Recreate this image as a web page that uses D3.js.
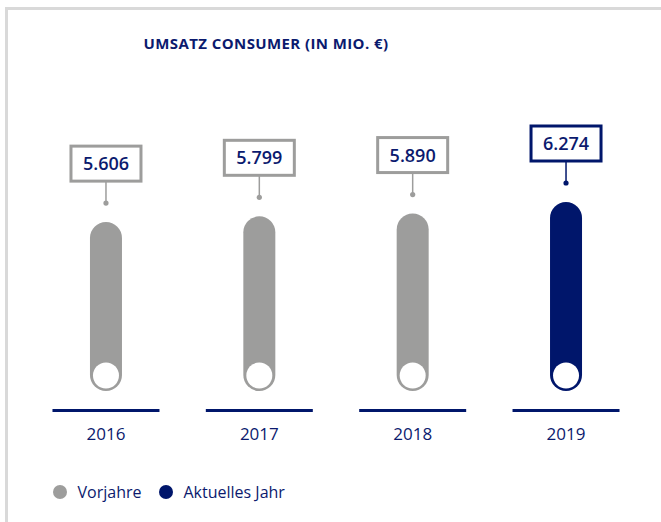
<!DOCTYPE html>
<html><head><meta charset="utf-8">
<script src="https://cdn.jsdelivr.net/npm/d3@7"></script>
<style>body{margin:0;background:#fff}svg{display:block}</style>
</head><body>
<svg id="c" width="661" height="522"></svg>
<script>
const years = ["2016","2017","2018","2019"];
const values = [5606, 5799, 5890, 6274];
const valueLabels = ["5.606","5.799","5.890","6.274"];
const current = [false,false,false,true];
const legendLabels = ["Vorjahre","Aktuelles Jahr"];
const title = "UMSATZ CONSUMER (IN MIO. €)";

const navy = "#0b1a6e", barNavy = "#00166b", gray = "#9d9d9c";
const font = "'Open Sans', sans-serif";
const svg = d3.select("#c");

// frame
svg.append("path").attr("d","M6.5,522 V8.5 H661").attr("fill","none").attr("stroke","#d9d9d9").attr("stroke-width",3);

svg.append("text").attr("x",266).attr("y",48.5).attr("text-anchor","middle")
  .attr("font-family",font).attr("font-weight",700).attr("font-size",15)
  .attr("letter-spacing",0.4).attr("fill",navy).text(title);

const x = d3.scaleBand().domain(years).range([29.3,642.7]);
const y = d3.scaleLinear().domain([0,6274]).range([391,202]);
const bw = 32;

const g = svg.selectAll("g.bar").data(years.map((d,i)=>({year:d,v:values[i],lab:valueLabels[i],cur:current[i]})))
  .enter().append("g");

g.append("line").attr("x1",d=>x(d.year)+x.bandwidth()/2-53.5).attr("x2",d=>x(d.year)+x.bandwidth()/2+53.5)
  .attr("y1",410.5).attr("y2",410.5).attr("stroke",barNavy).attr("stroke-width",3);

g.append("rect").attr("x",d=>x(d.year)+x.bandwidth()/2-bw/2).attr("width",bw)
  .attr("y",d=>y(d.v)).attr("height",d=>y(0)-y(d.v)).attr("rx",bw/2)
  .attr("fill",d=>d.cur?barNavy:gray);
g.append("circle").attr("cx",d=>x(d.year)+x.bandwidth()/2).attr("cy",375.5).attr("r",13).attr("fill","#fff");

g.append("text").attr("x",d=>x(d.year)+x.bandwidth()/2).attr("y",440).attr("text-anchor","middle")
  .attr("font-family",font).attr("font-size",17).attr("fill",navy).text(d=>d.year);

// labels
const bh = 35, bwid = 70;
g.append("line").attr("x1",d=>x(d.year)+x.bandwidth()/2).attr("x2",d=>x(d.year)+x.bandwidth()/2)
  .attr("y1",d=>y(d.v)-19).attr("y2",d=>y(d.v)-41).attr("stroke",d=>d.cur?barNavy:gray).attr("stroke-width",1.5);
g.append("circle").attr("cx",d=>x(d.year)+x.bandwidth()/2).attr("cy",d=>y(d.v)-19).attr("r",2.6)
  .attr("fill",d=>d.cur?barNavy:gray);
g.append("rect").attr("x",d=>x(d.year)+x.bandwidth()/2-bwid/2).attr("width",bwid)
  .attr("y",d=>y(d.v)-41-bh).attr("height",bh).attr("fill","#fff")
  .attr("stroke",d=>d.cur?barNavy:gray).attr("stroke-width",3);
g.append("text").attr("x",d=>x(d.year)+x.bandwidth()/2).attr("y",d=>y(d.v)-41-bh/2+6.5).attr("text-anchor","middle")
  .attr("font-family",font).attr("font-weight",600).attr("font-size",18).attr("fill",navy).text(d=>d.lab);

// legend
const lx = [60,166];
legendLabels.forEach((l,i)=>{
  svg.append("circle").attr("cx",lx[i]).attr("cy",492).attr("r",7).attr("fill",i?barNavy:gray);
  svg.append("text").attr("x",lx[i]+17.5).attr("y",498).attr("font-family",font).attr("font-size",16)
    .attr("fill",navy).text(l);
});
</script>
</body></html>
